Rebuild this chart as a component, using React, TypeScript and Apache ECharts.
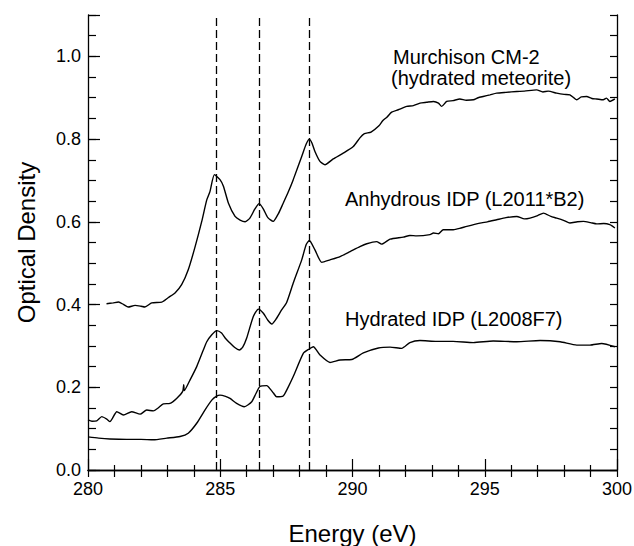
import React, { useEffect, useRef } from "react";
import * as echarts from "echarts";

// Energy (eV), Optical Density pairs
const murchison: [number, number][] = [
  [280.70,0.402],[280.95,0.404],[281.15,0.406],[281.35,0.400],[281.52,0.394],[281.78,0.398],[282.00,0.396],[282.15,0.394],
  [282.41,0.404],[282.79,0.406],[283.04,0.417],[283.29,0.428],[283.54,0.448],[283.79,0.484],[284.05,0.540],[284.30,0.601],
  [284.49,0.653],[284.61,0.673],[284.78,0.714],[284.99,0.702],[285.12,0.686],[285.31,0.645],[285.56,0.613],[285.75,0.604],
  [285.94,0.600],[286.12,0.609],[286.31,0.631],[286.47,0.644],[286.62,0.632],[286.80,0.610],[287.00,0.601],[287.20,0.620],
  [287.38,0.645],[287.57,0.672],[287.76,0.702],[288.08,0.758],[288.25,0.788],[288.37,0.800],[288.47,0.790],[288.58,0.770],
  [288.77,0.746],[288.96,0.738],[289.27,0.752],[289.65,0.766],[290.03,0.782],[290.28,0.803],[290.45,0.813],[290.70,0.817],
  [291.00,0.832],[291.15,0.845],[291.30,0.853],[291.48,0.865],[291.73,0.871],[292.05,0.879],[292.30,0.881],[292.55,0.887],
  [292.80,0.889],[293.06,0.891],[293.25,0.887],[293.37,0.879],[293.56,0.891],[293.80,0.893],[294.06,0.897],[294.30,0.894],
  [294.57,0.895],[294.75,0.900],[294.94,0.903],[295.20,0.907],[295.45,0.911],[295.80,0.913],[296.21,0.915],[296.50,0.916],
  [296.96,0.919],[297.20,0.914],[297.40,0.916],[297.72,0.911],[298.00,0.908],[298.22,0.907],[298.48,0.895],[298.65,0.902],
  [298.85,0.903],[299.05,0.898],[299.23,0.897],[299.48,0.895],[299.60,0.899],[299.73,0.891],[299.92,0.897],
];

const anhydrous: [number, number][] = [
  [280.00,0.121],[280.15,0.118],[280.33,0.119],[280.52,0.129],[280.71,0.123],[280.83,0.117],[281.09,0.141],[281.34,0.133],
  [281.65,0.141],[281.97,0.135],[282.22,0.145],[282.47,0.143],[282.65,0.150],[282.85,0.160],[283.10,0.161],[283.35,0.173],
  [283.58,0.190],[283.62,0.206],[283.64,0.192],[283.86,0.218],[284.11,0.250],[284.36,0.290],[284.49,0.310],[284.68,0.327],
  [284.87,0.337],[285.05,0.331],[285.20,0.318],[285.37,0.307],[285.55,0.296],[285.72,0.290],[285.85,0.297],[286.00,0.319],
  [286.25,0.371],[286.44,0.389],[286.63,0.379],[286.80,0.362],[286.95,0.353],[287.10,0.364],[287.32,0.387],[287.51,0.405],
  [287.76,0.452],[288.08,0.508],[288.25,0.545],[288.37,0.555],[288.58,0.532],[288.84,0.502],[289.15,0.508],[289.53,0.516],
  [289.91,0.528],[290.28,0.540],[290.54,0.547],[290.91,0.552],[291.10,0.546],[291.42,0.558],[291.92,0.563],[292.17,0.567],
  [292.43,0.566],[292.93,0.569],[293.06,0.573],[293.25,0.571],[293.43,0.581],[293.81,0.581],[294.05,0.584],[294.32,0.589],
  [294.82,0.597],[295.10,0.600],[295.45,0.605],[295.80,0.610],[296.21,0.613],[296.50,0.607],[296.71,0.609],[297.00,0.615],
  [297.22,0.621],[297.50,0.613],[297.72,0.609],[298.00,0.603],[298.22,0.597],[298.50,0.600],[298.73,0.601],[299.00,0.598],
  [299.23,0.595],[299.50,0.596],[299.73,0.593],[299.92,0.585],
];

const hydrated: [number, number][] = [
  [280.00,0.080],[280.40,0.077],[280.83,0.075],[281.46,0.074],[282.00,0.074],[282.47,0.073],[282.98,0.077],[283.48,0.081],
  [283.79,0.089],[284.11,0.113],[284.42,0.145],[284.68,0.169],[284.85,0.178],[284.99,0.181],[285.20,0.178],[285.37,0.173],
  [285.62,0.161],[285.91,0.153],[286.19,0.165],[286.35,0.185],[286.50,0.202],[286.76,0.204],[286.90,0.195],[287.01,0.186],
  [287.13,0.177],[287.38,0.179],[287.55,0.198],[287.76,0.226],[288.14,0.282],[288.35,0.292],[288.52,0.298],[288.77,0.278],
  [289.15,0.260],[289.53,0.266],[289.97,0.267],[290.41,0.283],[290.98,0.295],[291.42,0.297],[291.86,0.294],[292.17,0.308],
  [292.55,0.313],[293.18,0.311],[293.80,0.311],[294.57,0.308],[295.32,0.312],[296.21,0.310],[297.09,0.313],[297.85,0.310],
  [298.48,0.302],[298.98,0.302],[299.42,0.306],[299.92,0.298],
];

const peakEnergies = [284.84, 286.48, 288.37];

const labels = [
  { text: "Murchison CM-2", x: 393, y: 57 },
  { text: "(hydrated meteorite)", x: 391, y: 78 },
  { text: "Anhydrous IDP (L2011*B2)", x: 345, y: 199 },
  { text: "Hydrated IDP (L2008F7)", x: 345, y: 319 },
];

const FONT = "'Liberation Sans', Arial, Helvetica, sans-serif";

export default function App() {
  const ref = useRef<HTMLDivElement>(null);
  useEffect(() => {
    if (!ref.current) return;
    const chart = echarts.init(ref.current, undefined, { renderer: "svg" });
    const axisLine = { show: true, lineStyle: { color: "#000", width: 1.3 } };
    const lineSeries = (data: [number, number][], extra: any = {}) => ({
      type: "line",
      data,
      showSymbol: false,
      symbol: "none",
      smooth: 0.2,
      lineStyle: { color: "#000", width: 1.4 },
      xAxisIndex: 0,
      yAxisIndex: 0,
      z: 3,
      ...extra,
    });
    chart.setOption({
      animation: false,
      backgroundColor: "#fff",
      textStyle: { fontFamily: FONT, color: "#000" },
      grid: { left: 88, right: 17, top: 15, bottom: 76, containLabel: false, outerBoundsMode: "none" },
      xAxis: [
        {
          type: "value",
          min: 280,
          max: 300,
          interval: 5,
          position: "bottom",
          axisLine,
          axisTick: { show: true, inside: true, length: 11, lineStyle: { color: "#000", width: 1.2 } },
          minorTick: { show: true, splitNumber: 5, length: 5, lineStyle: { color: "#000", width: 1.2 } },
          axisLabel: { fontSize: 18, color: "#000", margin: 10, fontFamily: FONT },
          splitLine: { show: false },
          name: "Energy (eV)",
          nameLocation: "middle",
          nameGap: 51,
          nameTextStyle: { fontSize: 24, color: "#000", fontFamily: FONT },
        },
        {
          type: "value",
          min: 280,
          max: 300,
          interval: 1,
          position: "top",
          axisLine,
          axisTick: { show: true, inside: true, length: 7, lineStyle: { color: "#000", width: 1.2 } },
          axisLabel: { show: false },
          splitLine: { show: false },
        },
      ],
      yAxis: [
        {
          type: "value",
          min: 0,
          max: 1.1,
          interval: 0.05,
          position: "left",
          axisLine,
          axisTick: { show: true, inside: true, length: 8, lineStyle: { color: "#000", width: 1.2 } },
          axisLabel: {
            fontSize: 18,
            color: "#000",
            margin: 7,
            fontFamily: FONT,
            formatter: (v: number) => (Math.round(v * 100) % 20 === 0 && v <= 1.001 ? v.toFixed(1) : ""),
          },
          splitLine: { show: false },
          name: "Optical Density",
          nameLocation: "middle",
          nameGap: 50,
          nameTextStyle: { fontSize: 24, color: "#000", fontFamily: FONT },
        },
        {
          type: "value",
          min: 0,
          max: 1.1,
          interval: 0.2,
          position: "left",
          axisLine: { show: false },
          axisTick: { show: true, inside: true, length: 12, lineStyle: { color: "#000", width: 1.2 } },
          axisLabel: { show: false },
          splitLine: { show: false },
        },
        {
          type: "value",
          min: 0,
          max: 1.1,
          interval: 0.05,
          position: "right",
          axisLine,
          axisTick: { show: true, inside: true, length: 7, lineStyle: { color: "#000", width: 1.2 } },
          axisLabel: { show: false },
          splitLine: { show: false },
        },
      ],
      series: [
        lineSeries(murchison, {
          markLine: {
            silent: true,
            symbol: "none",
            label: { show: false },
            lineStyle: { color: "#000", type: [8, 4], width: 1.3 },
            data: peakEnergies.map((e) => ({ xAxis: e })),
          },
        }),
        lineSeries(anhydrous),
        lineSeries(hydrated),
      ],
      graphic: labels.map((l) => ({
        type: "text",
        left: l.x,
        top: l.y - 10,
        style: { text: l.text, fontSize: 20, fill: "#000", fontFamily: FONT },
        z: 10,
      })),
    });
    return () => chart.dispose();
  }, []);
  return (
    <div
      ref={ref}
      style={{ position: "fixed", left: 0, top: 0, width: 634, height: 546, background: "#fff" }}
    />
  );
}
